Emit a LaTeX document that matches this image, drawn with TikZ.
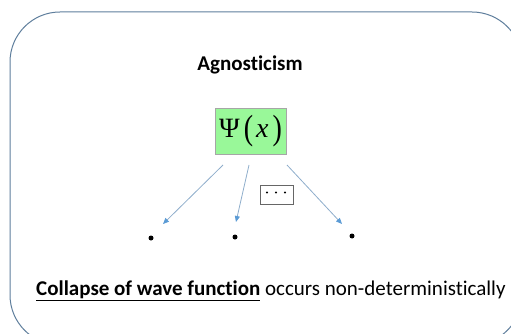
\documentclass[tikz,border=0pt]{standalone}
\usepackage{fontspec}
\setmainfont{Carlito}[Ligatures=NoCommon]
\newfontfamily\timesf{Liberation Serif}
\usetikzlibrary{arrows.meta}
\definecolor{frame}{HTML}{5E7E9C}
\definecolor{arrowc}{HTML}{8EADCB}
\definecolor{tipc}{HTML}{5B9BD5}
\definecolor{psigreen}{HTML}{99F899}
\tikzset{
  px/.style={x=1pt,y=-1pt},
  conn/.style={draw=arrowc,line width=0.8pt,-{Triangle[length=6pt,width=5pt,color=tipc,fill=tipc]}},
  dotnode/.style={circle,fill=black,inner sep=0pt,minimum size=5pt},
  smalldot/.style={circle,fill=black,inner sep=0pt,minimum size=2.2pt},
}
\begin{document}
\begin{tikzpicture}[px]
\useasboundingbox (0,0) rectangle (511,334);
\begin{scope}
\clip (0,0) rectangle (511,334);
\draw[frame,line width=1pt,rounded corners=50pt] (10,12) rectangle (522,345);
\end{scope}
\node (title) at (250,65) {\fontsize{21}{24}\selectfont\bfseries Agnosticism};
\node[draw=black!35,fill=psigreen,line width=0.8pt,minimum width=71pt,minimum height=46pt,inner sep=0pt] (psi) at (250.5,131) {\timesf\fontsize{28}{32}\selectfont Ψ\kern4pt\raisebox{-2pt}{\scalebox{1}[1.25]{(}}\kern3pt{\timesf\itshape x}\kern4pt\raisebox{-2pt}{\scalebox{1}[1.25]{)}}};
\node[draw=black!60,line width=0.6pt,minimum width=33pt,minimum height=19pt,inner sep=0pt] (dots) at (276.5,194.5) {};
\node[smalldot] (b1) at (267,192.5) {};
\node[smalldot] (b2) at (276,192.5) {};
\node[smalldot] (b3) at (285,192.5) {};
\node[dotnode] (d1) at (151,238) {};
\node[dotnode] (d2) at (235,237) {};
\node[dotnode] (d3) at (352,236) {};
\coordinate (s1) at (223,165);
\coordinate (s2) at (249,165);
\coordinate (s3) at (287,165);
\coordinate (e1) at (163,224);
\coordinate (e2) at (236,222);
\coordinate (e3) at (342,224);
\draw[conn] (s1) -- (e1);
\draw[conn] (s2) -- (e2);
\draw[conn] (s3) -- (e3);
\node[anchor=base west,inner sep=0pt] (caption) at (36,295) {\fontsize{21}{24}\selectfont\underline{\textbf{Collapse of wave function}} occurs non-deterministically};
\end{tikzpicture}
\end{document}
